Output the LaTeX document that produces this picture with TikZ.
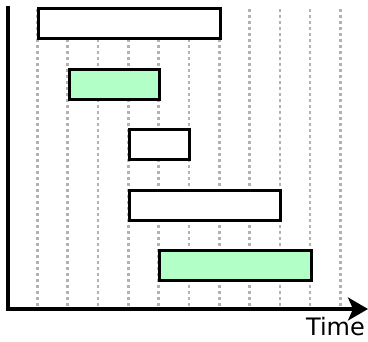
\documentclass[tikz,border=0pt]{standalone}
\usepackage{fontspec}
\setmainfont{DejaVu Sans}
\usetikzlibrary{arrows.meta}
\definecolor{mint}{RGB}{179,255,200}
\begin{document}
\begin{tikzpicture}[x=1pt,y=-1pt,
  grid/.style={draw=gray!60,line width=2.6pt,dash pattern=on 2.6pt off 3.4pt},
  bar/.style={draw=black,line width=3.4pt,fill=white,inner sep=0pt,minimum height=30pt,anchor=north west},
  gbar/.style={bar,fill=mint},
  axis/.style={line width=3.2pt}]
\useasboundingbox (0,0) rectangle (368,342);
% grid
\foreach \i in {0,...,10}{
  \draw[grid] ({37.5+30.3*\i},9) -- ({37.5+30.3*\i},307);
}
% bars
\node[bar,minimum width=182pt] (b1) at (37,7) {};
\node[gbar,minimum width=90pt] (b2) at (68,68) {};
\node[bar,minimum width=60pt] (b3) at (128,128) {};
\node[bar,minimum width=151pt] (b4) at (128,189) {};
\node[gbar,minimum width=152pt] (b5) at (158,249) {};
% axes
\coordinate (top) at (8,6);
\coordinate (origin) at (8,309);
\coordinate (tip) at (368,309);
\draw[axis,-{Stealth[length=20pt,width=23pt,inset=5pt]}] (top) -- (origin) -- (tip);
\node[anchor=base east,font=\fontsize{24}{28}\selectfont,inner sep=0pt] (time) at (365,336) {Time};
\end{tikzpicture}
\end{document}
